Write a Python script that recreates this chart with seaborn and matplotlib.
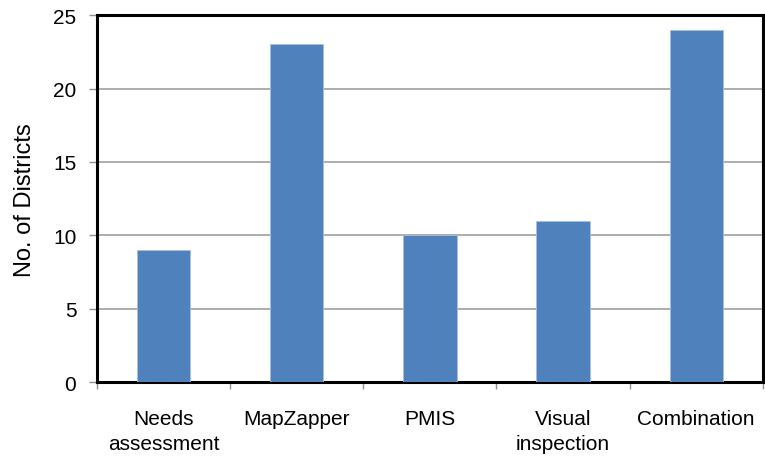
import numpy as np
import pandas as pd
import matplotlib
matplotlib.use('Agg')
import matplotlib.pyplot as plt
import seaborn as sns

categories = ['Needs\nassessment', 'MapZapper', 'PMIS', 'Visual\ninspection', 'Combination']
districts = [9, 23, 10, 11, 24]

sns.set_style('white')
plt.rcParams['font.family'] = ['Liberation Sans', 'DejaVu Sans']
plt.rcParams['text.color'] = 'black'
plt.rcParams['axes.labelcolor'] = 'black'
plt.rcParams['xtick.color'] = 'black'
plt.rcParams['ytick.color'] = 'black'

df = pd.DataFrame({'method': categories, 'count': districts})

fig = plt.figure(figsize=(7.65, 4.6), dpi=100)
ax = fig.add_axes([0.127, 0.167, 0.870, 0.798])

sns.barplot(data=df, x='method', y='count', color='#4F81BD', saturation=1,
            width=0.4, edgecolor='#a9c0dc', linewidth=0.6, ax=ax, zorder=3)

ax.set_ylim(0, 25)
ax.set_xlim(-0.5, len(categories) - 0.5)
ax.set_yticks(np.arange(0, 26, 5))
ax.yaxis.grid(True, color='#a0a0a0', linewidth=1.2, zorder=0)
ax.set_axisbelow(True)

ax.set_xlabel('')
ax.set_ylabel('No. of Districts', fontsize=17, labelpad=12)
ax.tick_params(axis='y', labelsize=15, length=6, color='#909090', width=1, pad=9,
               direction='out', left=True, labelcolor='black')
ax.tick_params(axis='x', which='major', labelsize=15, length=0, pad=19, labelcolor='black')
for lab in ax.get_xticklabels():
    lab.set_linespacing(1.4)
ax.set_xticks(np.arange(-0.5, len(categories), 1.0), minor=True)
ax.tick_params(axis='x', which='minor', length=5, color='#909090', width=1,
               direction='out', bottom=True)

for s in ax.spines.values():
    s.set_color('black')
    s.set_linewidth(2.2)
    s.set_visible(True)

fig.savefig('out.png', dpi=100)
